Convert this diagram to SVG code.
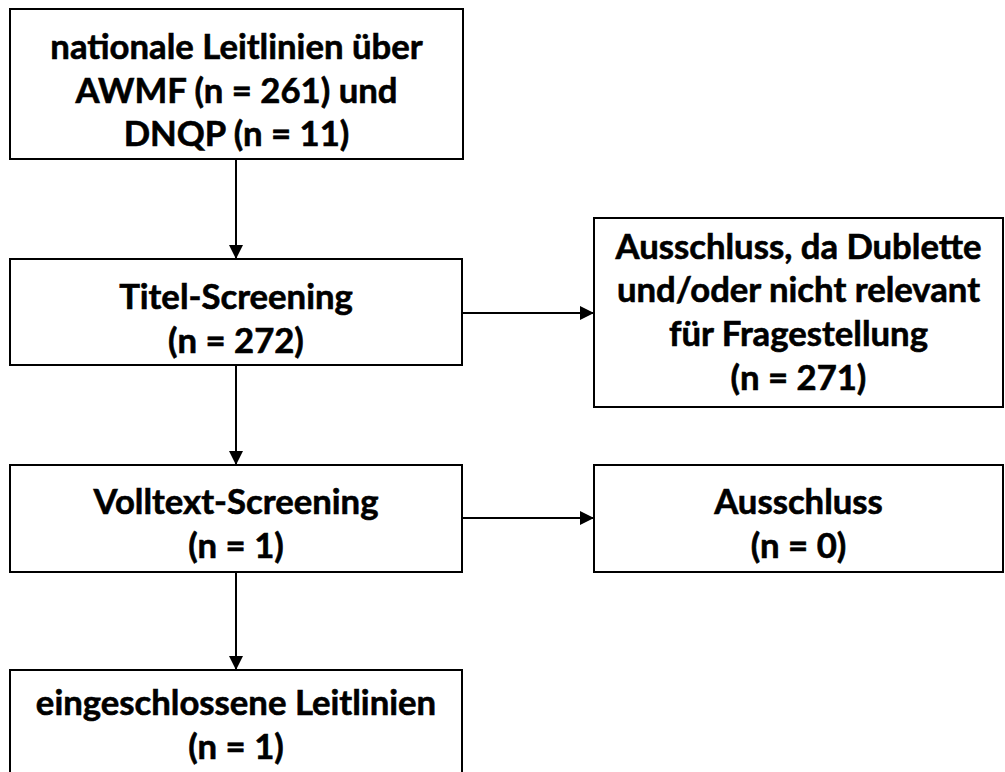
<svg xmlns="http://www.w3.org/2000/svg" width="1005" height="772" viewBox="0 0 1005 772">
  <style>
    .box { fill: #ffffff; stroke: #000000; stroke-width: 2; }
    .lbl { font-family: "Lato", "Liberation Sans", sans-serif; font-weight: bold; font-size: 34.7px; fill: #000000; stroke: #000000; stroke-width: 0.6; text-anchor: middle; }
    .edge { stroke: #000000; stroke-width: 2; fill: none; marker-end: url(#arrow); }
  </style>
  <defs>
    <marker id="arrow" markerWidth="16" markerHeight="16" refX="14" refY="7" orient="auto" markerUnits="userSpaceOnUse">
      <path d="M0,0 L14,7 L0,14 Z" fill="#000000"/>
    </marker>
  </defs>
  <rect width="1005" height="772" fill="#ffffff"/>

  <!-- connectors -->
  <g id="connectors">
    <line class="edge" x1="236" y1="159" x2="236" y2="259"/>
    <line class="edge" x1="236" y1="365" x2="236" y2="465"/>
    <line class="edge" x1="236" y1="572" x2="236" y2="670"/>
    <line class="edge" x1="462" y1="313" x2="594" y2="313"/>
    <line class="edge" x1="462" y1="518" x2="594" y2="518"/>
  </g>

  <g id="sources">
    <rect class="box" x="10" y="9" width="453" height="150"/>
    <text class="lbl" x="236.5" y="59">nationale Leitlinien über</text>
    <text class="lbl" x="236.5" y="103">AWMF (n = 261) und</text>
    <text class="lbl" x="236.5" y="146">DNQP (n = 11)</text>
  </g>

  <g id="title-screening">
    <rect class="box" x="10" y="259" width="452" height="106"/>
    <text class="lbl" x="236" y="309">Titel-Screening</text>
    <text class="lbl" x="236" y="353">(n = 272)</text>
  </g>

  <g id="exclusion-title">
    <rect class="box" x="594" y="218" width="409" height="189"/>
    <text class="lbl" x="798.5" y="259">Ausschluss, da Dublette</text>
    <text class="lbl" x="798.5" y="302">und/oder nicht relevant</text>
    <text class="lbl" x="798.5" y="346">für Fragestellung</text>
    <text class="lbl" x="798.5" y="390">(n = 271)</text>
  </g>

  <g id="fulltext-screening">
    <rect class="box" x="10" y="465" width="452" height="107"/>
    <text class="lbl" x="236" y="514">Volltext-Screening</text>
    <text class="lbl" x="236" y="558">(n = 1)</text>
  </g>

  <g id="exclusion-fulltext">
    <rect class="box" x="594" y="465" width="409" height="107"/>
    <text class="lbl" x="798.5" y="514">Ausschluss</text>
    <text class="lbl" x="798.5" y="558">(n = 0)</text>
  </g>

  <g id="included">
    <rect class="box" x="10" y="670" width="452" height="110"/>
    <text class="lbl" x="236" y="715">eingeschlossene Leitlinien</text>
    <text class="lbl" x="236" y="759">(n = 1)</text>
  </g>
</svg>
